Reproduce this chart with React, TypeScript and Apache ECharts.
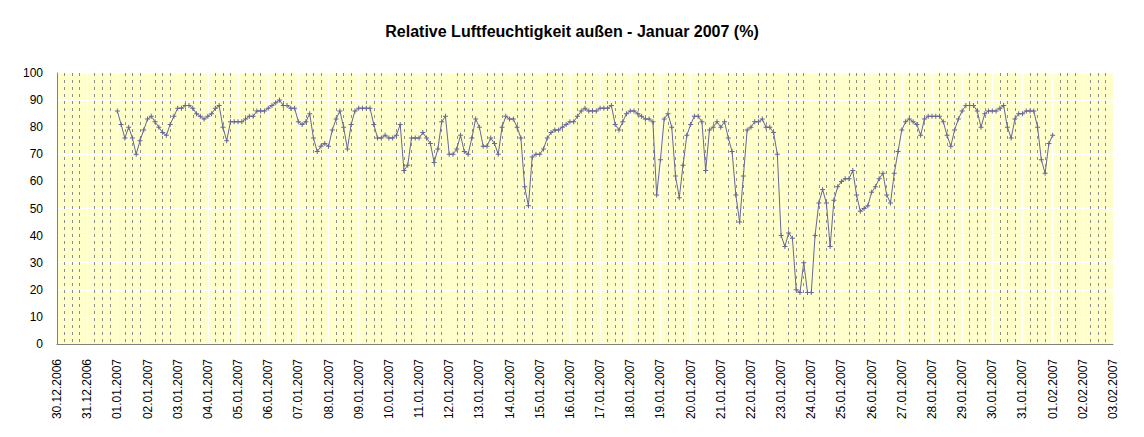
import React, { useEffect, useRef } from "react";
import * as echarts from "echarts";

const chartTitle = "Relative Luftfeuchtigkeit außen - Januar 2007 (%)";

const dateLabels = [
  "30.12.2006", "31.12.2006",
  "01.01.2007", "02.01.2007", "03.01.2007", "04.01.2007", "05.01.2007", "06.01.2007",
  "07.01.2007", "08.01.2007", "09.01.2007", "10.01.2007", "11.01.2007", "12.01.2007",
  "13.01.2007", "14.01.2007", "15.01.2007", "16.01.2007", "17.01.2007", "18.01.2007",
  "19.01.2007", "20.01.2007", "21.01.2007", "22.01.2007", "23.01.2007", "24.01.2007",
  "25.01.2007", "26.01.2007", "27.01.2007", "28.01.2007", "29.01.2007", "30.01.2007",
  "31.01.2007", "01.02.2007", "02.02.2007", "03.02.2007",
];

// first reading is at the start of dateLabels[2] (01.01.2007 00:00), one reading every 3 hours
const firstReadingDay = 2;
const readingsPerDay = 8;

// relative humidity (%) read every 3 hours, 01.01.2007 00:00 ... 01.02.2007 00:00
const humidity = [
  86, 81, 76, 80, 76, 70, 75, 79, // 01.01
  83, 84, 82, 80, 78, 77, 81, 84, // 02.01
  87, 87, 88, 88, 87, 85, 84, 83, // 03.01
  84, 85, 87, 88, 80, 75, 82, 82, // 04.01
  82, 82, 83, 84, 84, 86, 86, 86, // 05.01
  87, 88, 89, 90, 88, 88, 87, 87, // 06.01
  82, 81, 82, 85, 76, 71, 73, 74, // 07.01
  73, 79, 83, 86, 80, 72, 81, 86, // 08.01
  87, 87, 87, 87, 81, 76, 76, 77, // 09.01
  76, 76, 77, 81, 64, 66, 76, 76, // 10.01
  76, 78, 76, 74, 67, 72, 82, 84, // 11.01
  70, 70, 72, 77, 71, 70, 76, 83, // 12.01
  80, 73, 73, 76, 74, 70, 80, 84, // 13.01
  83, 83, 80, 76, 58, 51, 69, 70, // 14.01
  70, 72, 76, 78, 79, 79, 80, 81, // 15.01
  82, 82, 84, 86, 87, 86, 86, 86, // 16.01
  87, 87, 87, 88, 81, 79, 82, 85, // 17.01
  86, 86, 85, 84, 83, 83, 82, 55, // 18.01
  68, 83, 85, 80, 62, 54, 66, 77, // 19.01
  81, 84, 84, 82, 64, 79, 80, 82, // 20.01
  80, 82, 76, 71, 55, 45, 62, 79, // 21.01
  80, 82, 82, 83, 80, 80, 78, 70, // 22.01
  40, 36, 41, 39, 20, 19, 30, 19, // 23.01
  19, 40, 52, 57, 52, 36, 53, 58, // 24.01
  60, 61, 61, 64, 55, 49, 50, 51, // 25.01
  56, 58, 61, 63, 55, 52, 63, 71, // 26.01
  79, 82, 83, 82, 81, 77, 83, 84, // 27.01
  84, 84, 84, 82, 77, 73, 79, 83, // 28.01
  86, 88, 88, 88, 86, 80, 85, 86, // 29.01
  86, 86, 87, 88, 80, 76, 83, 85, // 30.01
  85, 86, 86, 86, 80, 68, 63, 74, // 31.01
  77, // 01.02 00:00
];

const yMin = 0;
const yMax = 100;
const yStep = 10;

const FONT = 'Arial, "Liberation Sans", sans-serif';
const LINE_COLOR = "#666699";

export default function App() {
  const ref = useRef<HTMLDivElement>(null);

  useEffect(() => {
    if (!ref.current) return;
    const chart = echarts.init(ref.current, null, { renderer: "svg" });
    const seriesData = humidity.map((v, i) => [firstReadingDay + i / readingsPerDay, v]);
    const plusSymbol = "path://M2,0H3V2H5V3H3V5H2V3H0V2H2Z";

    chart.setOption({
      animation: false,
      backgroundColor: "#ffffff",
      title: {
        text: chartTitle,
        left: "center",
        top: 18,
        textStyle: { fontFamily: FONT, fontSize: 16, fontWeight: "bold", color: "#000000" },
      },
      grid: {
        left: 57,
        top: 73,
        width: 1056,
        height: 271,
        show: true,
        backgroundColor: "#FFFFCC",
        borderWidth: 0,
      },
      xAxis: [
        {
          type: "value",
          min: 0,
          max: dateLabels.length - 1,
          interval: 1,
          axisLine: { show: false },
          axisTick: { show: false },
          axisLabel: {
            rotate: 90,
            fontFamily: FONT,
            fontSize: 12,
            color: "#000000",
            margin: 15,
            showMinLabel: true,
            showMaxLabel: true,
            formatter: (v: number) => dateLabels[Math.round(v)] ?? "",
          },
          splitLine: { show: true, lineStyle: { color: "#ffffff", width: 1 } },
          minorTick: { show: false, splitNumber: 4 },
          minorSplitLine: { show: true, lineStyle: { color: "#8c8c8c", width: 1, type: [3, 4] } },
        },
        {
          type: "value",
          position: "top",
          min: 0,
          max: dateLabels.length - 1,
          axisLine: { show: true, lineStyle: { color: "#808080", width: 1 } },
          axisTick: { show: false },
          axisLabel: { show: false },
          splitLine: { show: false },
        },
      ],
      yAxis: [
        {
          type: "value",
          min: yMin,
          max: yMax,
          interval: yStep,
          axisLine: { show: false },
          axisTick: { show: false },
          axisLabel: { fontFamily: FONT, fontSize: 12, color: "#000000", margin: 14 },
          splitLine: { show: true, lineStyle: { color: "#ffffff", width: 1 } },
        },
        {
          type: "value",
          position: "right",
          min: yMin,
          max: yMax,
          axisLine: { show: true, lineStyle: { color: "#808080", width: 1 } },
          axisTick: { show: false },
          axisLabel: { show: false },
          splitLine: { show: false },
        },
      ],
      series: [
        {
          type: "line",
          xAxisIndex: 0,
          yAxisIndex: 0,
          data: seriesData,
          symbol: plusSymbol,
          symbolSize: 5,
          showSymbol: true,
          lineStyle: { color: LINE_COLOR, width: 1 },
          itemStyle: { color: LINE_COLOR },
          emphasis: { disabled: true },
        },
      ],
    });

    return () => chart.dispose();
  }, []);

  return (
    <div
      ref={ref}
      style={{ position: "absolute", left: 0, top: 0, width: 1144, height: 437 }}
    />
  );
}
